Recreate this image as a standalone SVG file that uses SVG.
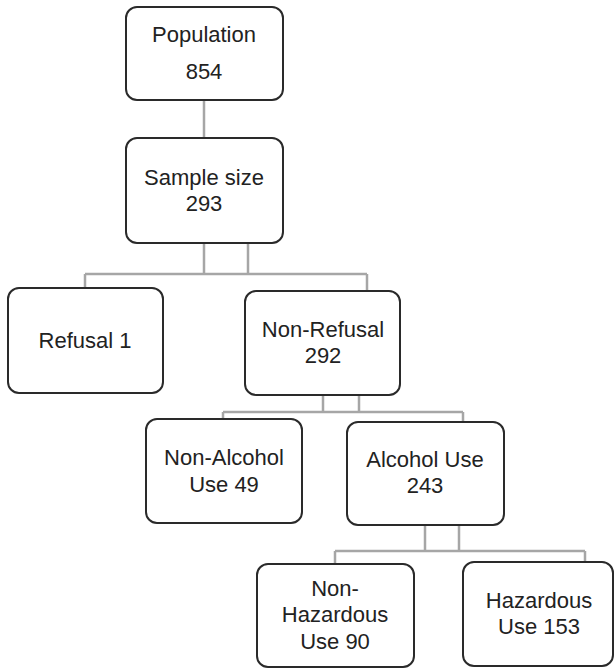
<svg xmlns="http://www.w3.org/2000/svg" width="614" height="668" viewBox="0 0 614 668">
<style>
.box{fill:#fff;stroke:#2a2a2a;stroke-width:2}
.c{fill:none;stroke:#a6a6a6;stroke-width:2.5}
text{font-family:"Liberation Sans",Arial,sans-serif;font-size:22px;fill:#222;text-anchor:middle}
</style>
<rect width="614" height="668" fill="#fff"/>
<g id="connectors">
<line class="c" x1="204" y1="100" x2="204" y2="138"/>
<path class="c" d="M204 243V274M248 243V274M85 274H367M85 274V288M367 274V291"/>
<path class="c" d="M323 395V412M359 395V412M223 412H463M223 412V419M463 412V422"/>
<path class="c" d="M425 525V551M459 525V551M335 551H585M335 551V564M585 551V562"/>
</g>
<g id="population"><rect class="box" x="126" y="7" width="157" height="93" rx="11"/><text x="204" y="42">Population</text><text x="204" y="79">854</text></g>
<g id="sample"><rect class="box" x="126" y="138" width="157" height="105" rx="11"/><text x="204" y="185">Sample size</text><text x="204" y="211">293</text></g>
<g id="refusal"><rect class="box" x="8" y="288" width="155" height="105" rx="11"/><text x="85" y="348">Refusal 1</text></g>
<g id="nonrefusal"><rect class="box" x="245" y="291" width="155" height="104" rx="11"/><text x="323" y="337">Non-Refusal</text><text x="323" y="363">292</text></g>
<g id="nonalcohol"><rect class="box" x="146" y="419" width="156" height="104" rx="11"/><text x="224" y="465">Non-Alcohol</text><text x="224" y="492">Use 49</text></g>
<g id="alcohol"><rect class="box" x="347" y="422" width="157" height="103" rx="11"/><text x="425" y="467">Alcohol Use</text><text x="425" y="493">243</text></g>
<g id="nonhazardous"><rect class="box" x="257" y="564" width="157" height="103" rx="11"/><text x="335" y="596">Non-</text><text x="335" y="622">Hazardous</text><text x="335" y="649">Use 90</text></g>
<g id="hazardous"><rect class="box" x="463" y="562" width="150" height="104" rx="11"/><text x="539" y="608">Hazardous</text><text x="539" y="634">Use 153</text></g>
</svg>
